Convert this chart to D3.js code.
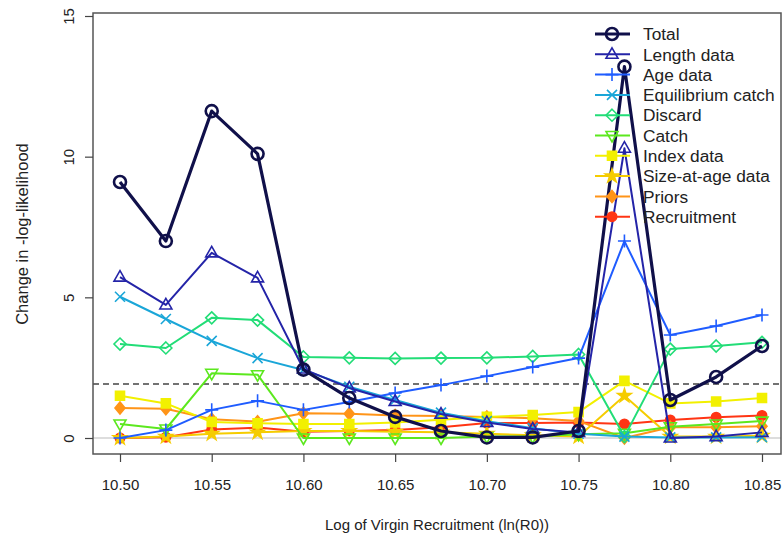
<!DOCTYPE html>
<html><head><meta charset="utf-8">
<script src="https://cdn.jsdelivr.net/npm/d3@7"></script>
<style>body{margin:0;background:#fff}svg{display:block;font-family:"Liberation Sans",Arial,sans-serif}</style>
</head><body><svg id="c" width="783" height="540"></svg>
<script>
const xValues = [10.5,10.525,10.55,10.575,10.6,10.625,10.65,10.675,10.7,10.725,10.75,10.775,10.8,10.825,10.85];
const seriesNames = ["Total","Length data","Age data","Equilibrium catch","Discard","Catch","Index data","Size-at-age data","Priors","Recruitment"];
const total =        [9.1,7.0,11.62,10.1,2.43,1.42,0.75,0.25,0.02,0.02,0.25,13.2,1.35,2.17,3.27];
const lengthData =   [5.72,4.73,6.58,5.69,2.45,1.78,1.3,0.85,0.55,0.32,0.2,10.3,0.0,0.05,0.2];
const ageData =      [0.0,0.28,1.0,1.32,1.0,1.28,1.6,1.88,2.2,2.52,2.84,7.0,3.66,3.98,4.37];
const equilCatch =   [5.02,4.23,3.45,2.84,2.42,1.82,1.35,0.9,0.6,0.35,0.15,0.05,0.02,0.02,0.03];
const discard =      [3.34,3.2,4.27,4.19,2.88,2.85,2.83,2.84,2.85,2.9,2.97,0.05,3.16,3.27,3.4];
const catchData =    [0.5,0.32,2.3,2.25,0.0,0.0,0.0,0.0,0.05,0.05,0.13,0.17,0.4,0.5,0.6];
const indexData =    [1.5,1.23,0.57,0.52,0.5,0.5,0.55,0.65,0.75,0.82,0.92,2.03,1.23,1.3,1.42];
const sizeAtAge =    [0.0,0.05,0.15,0.2,0.25,0.25,0.22,0.2,0.15,0.1,0.05,1.5,0.05,0.05,0.08];
const priors =       [1.07,1.04,0.67,0.58,0.88,0.86,0.8,0.78,0.75,0.7,0.6,0.0,0.38,0.38,0.42];
const recruitment =  [0.0,0.03,0.3,0.37,0.22,0.25,0.28,0.38,0.53,0.53,0.55,0.5,0.64,0.74,0.8];
const xTicks = [10.5,10.55,10.6,10.65,10.7,10.75,10.8,10.85];
const yTicks = [0,5,10,15];
const threshold = 1.92;

const colors = ["#10104a","#2424a8","#1f5cff","#1aa6d8","#22dd77","#5ce81e","#f2f000","#f5cc00","#ff9418","#ff3514"];
const shapes = ["circle","tri","plus","times","diamond","tridown","square","star","fdiamond","fcircle"];
const values = [total,lengthData,ageData,equilCatch,discard,catchData,indexData,sizeAtAge,priors,recruitment];

const svg = d3.select("#c");
const x = d3.scaleLinear().domain([10.5,10.85]).range([120,762]);
const y = d3.scaleLinear().domain([0,15]).range([438,16]);
const box = {l:93,r:781,t:13,b:454};

svg.append("line").attr("x1",box.l).attr("x2",box.r).attr("y1",y(0)).attr("y2",y(0)).attr("stroke","#bbb").attr("stroke-width",1);
svg.append("line").attr("x1",box.l).attr("x2",box.r).attr("y1",y(threshold)).attr("y2",y(threshold))
  .attr("stroke","#444").attr("stroke-width",1.5).attr("stroke-dasharray","6,4");

function symPath(shape){
  switch(shape){
    case "circle": return d3.symbol().type(d3.symbolCircle).size(Math.PI*36)();
    case "fcircle": return d3.symbol().type(d3.symbolCircle).size(Math.PI*22)();
    case "tri": return "M0,-6.5L6,4L-6,4Z";
    case "tridown": return "M0,6.5L6,-4L-6,-4Z";
    case "plus": return "M-6.5,0L6.5,0M0,-6.5L0,6.5";
    case "times": return "M-5,-5L5,5M-5,5L5,-5";
    case "diamond": return "M0,-6L6,0L0,6L-6,0Z";
    case "fdiamond": return "M0,-6L5,0L0,6L-5,0Z";
    case "square": return "M-4.5,-4.5H4.5V4.5H-4.5Z";
    case "star": return d3.symbol().type(d3.symbolStar).size(55)();
  }
}
const filled = s => ["square","star","fdiamond","fcircle"].includes(s);
const line = d3.line().x((d,i)=>x(xValues[i])).y(d=>y(d));

for (let k = values.length-1; k >= 0; k--) {
  const g = svg.append("g");
  const sw = k===0 ? 3.2 : 2;
  g.append("path").attr("d",line(values[k])).attr("fill","none").attr("stroke",colors[k]).attr("stroke-width",sw).attr("stroke-linejoin","round");
  const p = symPath(shapes[k]);
  g.selectAll("path.m").data(values[k]).enter().append("path").attr("class","m")
    .attr("d",p)
    .attr("transform",(d,i)=>`translate(${x(xValues[i])},${y(d)})`)
    .attr("fill",filled(shapes[k])?colors[k]:"none")
    .attr("stroke",colors[k]).attr("stroke-width",k===0?2.6:1.6);
}

svg.append("rect").attr("x",box.l).attr("y",box.t).attr("width",box.r-box.l).attr("height",box.b-box.t)
  .attr("fill","none").attr("stroke","#555").attr("stroke-width",1.5);

const xa = svg.append("g").attr("transform",`translate(0,${box.b})`)
  .call(d3.axisBottom(x).tickValues(xTicks).tickFormat(d3.format(".2f")).tickSize(8).tickSizeOuter(0));
xa.select(".domain").remove();
xa.selectAll("line").attr("stroke","#444").attr("stroke-width",1.2);
xa.selectAll("text").attr("font-size",15).attr("fill","#222").attr("y",25).attr("dy","0.71em").attr("font-family","Liberation Sans, Arial, sans-serif");

const ya = svg.append("g").attr("transform",`translate(${box.l},0)`)
  .call(d3.axisLeft(y).tickValues(yTicks).tickFormat(d3.format("d")).tickSize(8).tickSizeOuter(0));
ya.select(".domain").remove();
ya.selectAll("line").attr("stroke","#444").attr("stroke-width",1.2);
ya.selectAll("text").attr("font-size",15).attr("fill","#222").attr("font-family","Liberation Sans, Arial, sans-serif")
  .attr("text-anchor","middle").attr("x",0).attr("dy",0)
  .attr("transform","translate(-19,0) rotate(-90)");

svg.append("text").attr("x",437).attr("y",530).attr("text-anchor","middle").attr("font-size",15).attr("fill","#222").text("Log of Virgin Recruitment (ln(R0))");
svg.append("text").attr("transform","translate(28,234) rotate(-90)").attr("text-anchor","middle").attr("font-size",16.5).attr("fill","#222").text("Change in -log-likelihood");

const lg = svg.append("g");
seriesNames.forEach((n,k)=>{
  const yy = 34 + k*20.3;
  lg.append("line").attr("x1",595).attr("x2",630).attr("y1",yy).attr("y2",yy).attr("stroke",colors[k]).attr("stroke-width",k===0?3.2:2);
  lg.append("path").attr("d",symPath(shapes[k]))
    .attr("transform",`translate(612,${yy})`)
    .attr("fill",filled(shapes[k])?colors[k]:"none").attr("stroke",colors[k]).attr("stroke-width",k===0?2.6:1.6);
  lg.append("text").attr("x",643).attr("y",yy).attr("dy","0.36em").attr("font-size",17.3).attr("fill","#222").text(n);
});
</script></body></html>
